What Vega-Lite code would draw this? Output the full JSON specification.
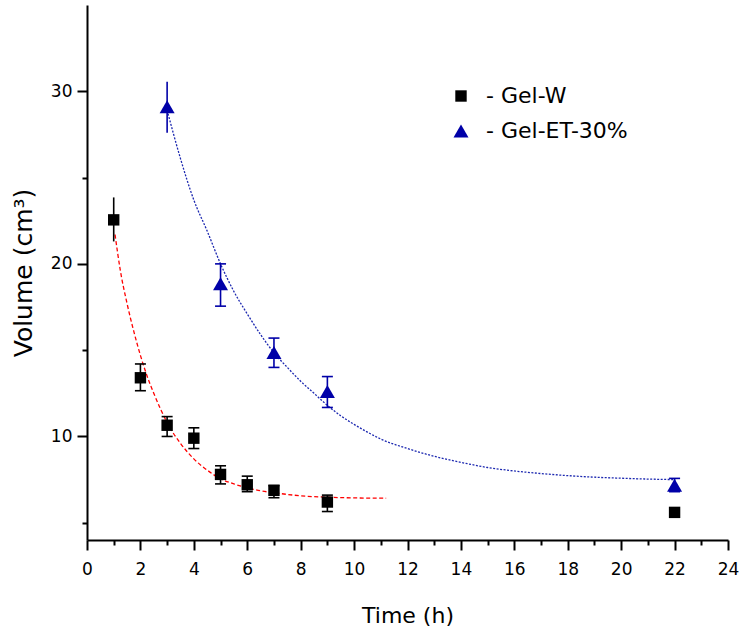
{
  "$schema": "https://vega.github.io/schema/vega-lite/v6.json",
  "width": 641,
  "height": 535,
  "autosize": {"type": "none"},
  "padding": {"left": 87, "top": 5, "right": 14, "bottom": 94},
  "background": "white",
  "config": {
    "view": {"stroke": null},
    "font": "DejaVu Sans",
    "axis": {
      "domainColor": "black", "domainWidth": 2, "tickColor": "black", "tickWidth": 2,
      "labelColor": "black", "titleColor": "black", "labelFont": "DejaVu Sans", "titleFont": "DejaVu Sans",
      "grid": false, "titleFontWeight": "normal", "labelFontSize": 17, "titleFontSize": 22
    }
  },
  "datasets": {
    "points": [
      {"series": "Gel-W", "time": 1, "volume": 22.55, "lo": 21.3, "hi": 23.85},
      {"series": "Gel-W", "time": 2, "volume": 13.4, "lo": 12.65, "hi": 14.2},
      {"series": "Gel-W", "time": 3, "volume": 10.65, "lo": 10.0, "hi": 11.15},
      {"series": "Gel-W", "time": 4, "volume": 9.9, "lo": 9.3, "hi": 10.5},
      {"series": "Gel-W", "time": 5, "volume": 7.8, "lo": 7.25, "hi": 8.3},
      {"series": "Gel-W", "time": 6, "volume": 7.2, "lo": 6.8, "hi": 7.7},
      {"series": "Gel-W", "time": 7, "volume": 6.88, "lo": 6.45, "hi": 7.15},
      {"series": "Gel-W", "time": 9, "volume": 6.2, "lo": 5.65, "hi": 6.6},
      {"series": "Gel-W", "time": 22, "volume": 5.6, "lo": 5.6, "hi": 5.6},
      {"series": "Gel-ET-30%", "time": 3, "volume": 29.1, "lo": 27.6, "hi": 30.55},
      {"series": "Gel-ET-30%", "time": 5, "volume": 18.85, "lo": 17.55, "hi": 20.0},
      {"series": "Gel-ET-30%", "time": 7, "volume": 14.86, "lo": 14.0, "hi": 15.7},
      {"series": "Gel-ET-30%", "time": 9, "volume": 12.6, "lo": 11.68, "hi": 13.47},
      {"series": "Gel-ET-30%", "time": 22, "volume": 7.17, "lo": 6.8, "hi": 7.57}
    ],
    "fitW": [
      {"time": 1.05, "volume": 21.7}, {"time": 1.25, "volume": 19.6}, {"time": 1.5, "volume": 17.7},
      {"time": 1.75, "volume": 16.1}, {"time": 2.0, "volume": 14.7}, {"time": 2.25, "volume": 13.5},
      {"time": 2.5, "volume": 12.5}, {"time": 2.75, "volume": 11.6}, {"time": 3.0, "volume": 10.8},
      {"time": 3.5, "volume": 9.6}, {"time": 4.0, "volume": 8.7}, {"time": 4.5, "volume": 8.05},
      {"time": 5.0, "volume": 7.55}, {"time": 5.5, "volume": 7.25}, {"time": 6.0, "volume": 7.02},
      {"time": 6.5, "volume": 6.85}, {"time": 7.0, "volume": 6.74}, {"time": 8.0, "volume": 6.56},
      {"time": 9.0, "volume": 6.48}, {"time": 10.0, "volume": 6.44}, {"time": 11.2, "volume": 6.42}
    ],
    "fitET": [
      {"time": 3.0, "volume": 28.9}, {"time": 3.5, "volume": 26.1}, {"time": 4.0, "volume": 23.7},
      {"time": 4.5, "volume": 21.9}, {"time": 5.0, "volume": 20.0}, {"time": 5.5, "volume": 18.4},
      {"time": 6.0, "volume": 17.1}, {"time": 6.5, "volume": 15.9}, {"time": 7.0, "volume": 14.85},
      {"time": 7.5, "volume": 14.0}, {"time": 8.0, "volume": 13.2}, {"time": 8.5, "volume": 12.5},
      {"time": 9.0, "volume": 11.8}, {"time": 9.5, "volume": 11.2}, {"time": 10.0, "volume": 10.7},
      {"time": 10.5, "volume": 10.25}, {"time": 11.0, "volume": 9.85}, {"time": 12.0, "volume": 9.3},
      {"time": 13.0, "volume": 8.85}, {"time": 14.0, "volume": 8.5}, {"time": 15.0, "volume": 8.2},
      {"time": 16.0, "volume": 8.0}, {"time": 17.0, "volume": 7.85}, {"time": 18.0, "volume": 7.73},
      {"time": 19.0, "volume": 7.64}, {"time": 20.0, "volume": 7.58}, {"time": 21.0, "volume": 7.53},
      {"time": 22.0, "volume": 7.5}
    ]
  },
  "resolve": {"axis": {"x": "independent", "y": "independent"}},
  "layer": [
    {
      "data": {"name": "fitW"},
      "mark": {"type": "line", "color": "#ff0000", "strokeWidth": 1.3, "strokeDash": [4, 2.5], "interpolate": "monotone"},
      "encoding": {
        "x": {"field": "time", "type": "quantitative",
          "scale": {"domain": [0, 24], "nice": false, "zero": false},
          "axis": {"orient": "bottom", "values": [0, 2, 4, 6, 8, 10, 12, 14, 16, 18, 20, 22, 24], "tickSize": 10,
            "labelPadding": 11, "title": "Time (h)", "titlePadding": 28, "labelFlush": false}},
        "y": {"field": "volume", "type": "quantitative",
          "scale": {"domain": [4, 35], "nice": false, "zero": false},
          "axis": {"orient": "left", "values": [10, 20, 30], "tickSize": 10, "labelPadding": 5,
            "title": "Volume (cm³)", "titleFontSize": 25, "titlePadding": 14}}
      }
    },
    {
      "data": {"name": "fitET"},
      "mark": {"type": "line", "color": "#1c28b0", "strokeWidth": 1.3, "strokeDash": [2, 1.5], "interpolate": "monotone"},
      "encoding": {
        "x": {"field": "time", "type": "quantitative", "axis": null},
        "y": {"field": "volume", "type": "quantitative", "axis": null}
      }
    },
    {
      "data": {"name": "points"},
      "mark": {"type": "point", "opacity": 0},
      "encoding": {
        "x": {"field": "time", "type": "quantitative",
          "scale": {"domain": [0, 24], "nice": false, "zero": false},
          "axis": {"orient": "bottom", "values": [1, 3, 5, 7, 9, 11, 13, 15, 17, 19, 21, 23], "tickSize": 5,
            "labels": false, "domain": false, "title": null}},
        "y": {"field": "volume", "type": "quantitative",
          "scale": {"domain": [4, 35], "nice": false, "zero": false},
          "axis": {"orient": "left", "values": [5, 15, 25], "tickSize": 5, "labels": false, "domain": false, "title": null}}
      }
    },
    {
      "data": {"name": "points"},
      "mark": {"type": "rule", "strokeWidth": 1.6, "opacity": 1},
      "encoding": {
        "x": {"field": "time", "type": "quantitative", "axis": null},
        "y": {"field": "lo", "type": "quantitative", "axis": null},
        "y2": {"field": "hi"},
        "color": {"field": "series", "type": "nominal",
          "scale": {"domain": ["Gel-W", "Gel-ET-30%"], "range": ["#000000", "#0000a8"]}}
      }
    },
    {
      "data": {"name": "points"},
      "transform": [{"filter": "!(datum.series === 'Gel-W' && (datum.time === 1 || datum.time === 22)) && !(datum.series === 'Gel-ET-30%' && datum.time === 3)"}],
      "mark": {"type": "tick", "orient": "horizontal", "size": 11, "thickness": 1.6, "opacity": 1},
      "encoding": {
        "x": {"field": "time", "type": "quantitative", "axis": null},
        "y": {"field": "lo", "type": "quantitative", "axis": null},
        "color": {"field": "series", "type": "nominal"}
      }
    },
    {
      "data": {"name": "points"},
      "transform": [{"filter": "!(datum.series === 'Gel-W' && (datum.time === 1 || datum.time === 22)) && !(datum.series === 'Gel-ET-30%' && datum.time === 3)"}],
      "mark": {"type": "tick", "orient": "horizontal", "size": 11, "thickness": 1.6, "opacity": 1},
      "encoding": {
        "x": {"field": "time", "type": "quantitative", "axis": null},
        "y": {"field": "hi", "type": "quantitative", "axis": null},
        "color": {"field": "series", "type": "nominal"}
      }
    },
    {
      "data": {"name": "points"},
      "mark": {"type": "point", "filled": true, "opacity": 1},
      "encoding": {
        "x": {"field": "time", "type": "quantitative", "axis": null},
        "y": {"field": "volume", "type": "quantitative", "axis": null},
        "color": {"field": "series", "type": "nominal",
          "legend": {
            "title": null, "orient": "none", "legendX": 363, "legendY": 80,
            "labelFont": "DejaVu Sans", "labelFontSize": 22, "labelColor": "black",
            "labelExpr": "'- ' + datum.label", "rowPadding": 13, "labelOffset": 14,
            "symbolStrokeWidth": 0, "symbolOpacity": 1
          }},
        "shape": {"field": "series", "type": "nominal",
          "scale": {"domain": ["Gel-W", "Gel-ET-30%"], "range": ["square", "triangle-up"]}},
        "size": {"field": "series", "type": "nominal",
          "scale": {"domain": ["Gel-W", "Gel-ET-30%"], "range": [130, 225]}}
      }
    }
  ]
}
